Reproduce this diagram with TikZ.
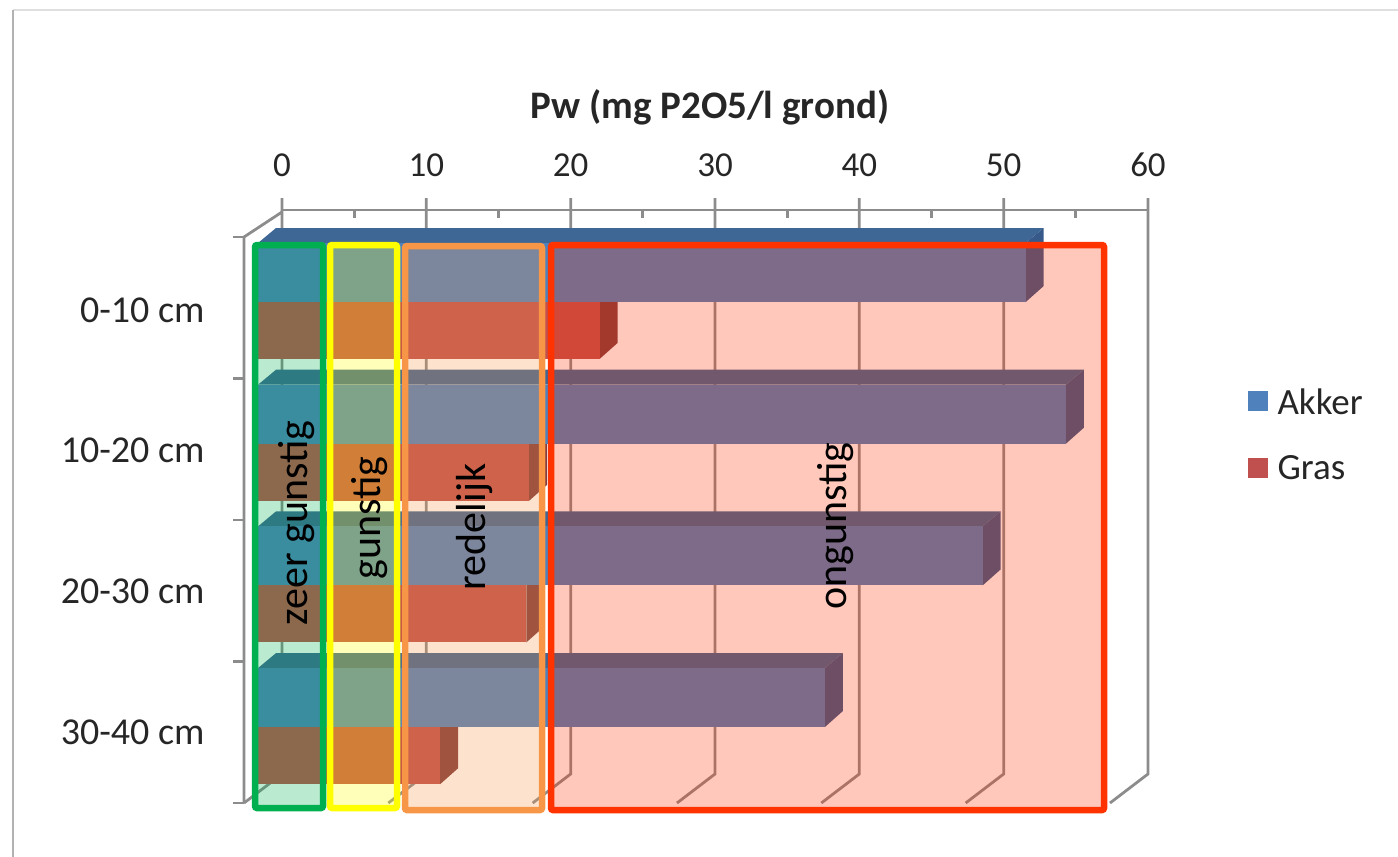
\documentclass[tikz,border=0pt]{standalone}
\usepackage{fontspec}
\setmainfont{Carlito}
\usepackage{tikz}
\definecolor{akker}{HTML}{4F81BD}
\definecolor{akkertop}{HTML}{3F6795}
\definecolor{akkerside}{HTML}{37598A}
\definecolor{gras}{HTML}{C0504D}
\definecolor{grasside}{HTML}{813C3F}
\definecolor{gridgray}{HTML}{8C8C8C}
\definecolor{zgreen}{HTML}{00B050}
\definecolor{gyellow}{HTML}{FFFF00}
\definecolor{rorange}{HTML}{F79646}
\definecolor{ored}{HTML}{FF3300}
\tikzset{
  gridline/.style={gridgray,line width=2.8},
  ticklabel/.style={font=\fontsize{35}{40}\selectfont,text=black!85},
  catlabel/.style={font=\fontsize{38}{44}\selectfont,text=black!85,anchor=east},
  zonebox/.style={draw=#1,fill=#1,fill opacity=0.27,line width=6.5,rounded corners=2},
  zonelabel/.style={rotate=90,font=\fontsize{42}{48}\selectfont,text=black},
}
\begin{document}
\begin{tikzpicture}[x=1pt,y=-1pt]
        \useasboundingbox(0,0)rectangle(1398,857);
        % chart frame
        \draw[gray!25,line width=1.5](13,10)--(1398,10);
        \draw[gray!60,line width=2.5](13,10)--(13,857);
        % back wall and axes
        \foreach \k in {0,...,6}
          \draw[gridline]({282+144.33*\k},198)--++(0,576)--++(-38,29);
        \draw[gridline](282,210)--(1148,210);
        \foreach \k in {0,...,5}
          \draw[gridline]({282+144.33*(\k+0.5)},210)--++(0,8);
        \draw[gridline](282,212)--(244,237)--(244,803);
        \foreach \j in {0,...,4}
          \draw[gridline](233,{237+141.5*\j})--(244,{237+141.5*\j});
        \node[font=\bfseries\fontsize{39}{44}\selectfont,text=black!85](title)at(710,107){Pw (mg P2O5/l grond)};
        \foreach \v in {0,10,...,60}
          \node[ticklabel](t\v)at({282+14.433*\v},165){\v};
        \node[catlabel](c1)at(208,310){0-10 cm};
        \node[catlabel](c2)at(208,450){10-20 cm};
        \node[catlabel](c3)at(208,591){20-30 cm};
        \node[catlabel](c4)at(208,732){30-40 cm};
        % bars: Gras below, Akker on top
        \foreach \i/\a/\g in {0/53.5/23.8,1/56.3/18.9,2/50.5/18.7,3/39.5/12.7}{
          \pgfmathsetmacro\yo{228+141.7*\i}
          \pgfmathsetmacro\yf{\yo+15}
          \pgfmathsetmacro\ym{\yo+74}
          \pgfmathsetmacro\yb{\yo+131}
          \pgfmathsetmacro\xa{258+14.35*\a}
          \pgfmathsetmacro\xg{258+14.35*\g}
          \fill[grasside](\xg,\ym)--++(18,-16)--(\xg+18,\yb-16)--(\xg,\yb)--cycle;
          \fill[gras](258,\ym)rectangle(\xg,\yb);
          \fill[akkertop](258,\yf)--(276,\yo)--(\xa+18,\yo)--(\xa,\yf)--cycle;
          \fill[akkerside](\xa,\yf)--(\xa+18,\yo)--(\xa+18,\ym-16)--(\xa,\ym)--cycle;
          \fill[akker](258,\yf)rectangle(\xa,\ym);
        }
        % zones
        \draw[zonebox=zgreen](255,245)rectangle(323,808);
        \draw[zonebox=gyellow](330,245)rectangle(397,808);
        \draw[zonebox=rorange](405,246)rectangle(542,810);
        \draw[zonebox=ored](551,245)rectangle(1104,810);
        \node[zonelabel](zg)at(297,523){zeer gunstig};
        \node[zonelabel](gu)at(370,518){gunstig};
        \node[zonelabel](re)at(475,527){redelijk};
        \node[zonelabel](on)at(836,526){ongunstig};
        % legend
        \fill[akker](1248,391)rectangle(1268,411);
        \node[font=\fontsize{37}{42}\selectfont,text=black!85,anchor=west](la)at(1274,402){Akker};
        \fill[gras](1248,458)rectangle(1268,478);
        \node[font=\fontsize{37}{42}\selectfont,text=black!85,anchor=west](lg)at(1274,468){Gras};
    \end{tikzpicture}
\end{document}
